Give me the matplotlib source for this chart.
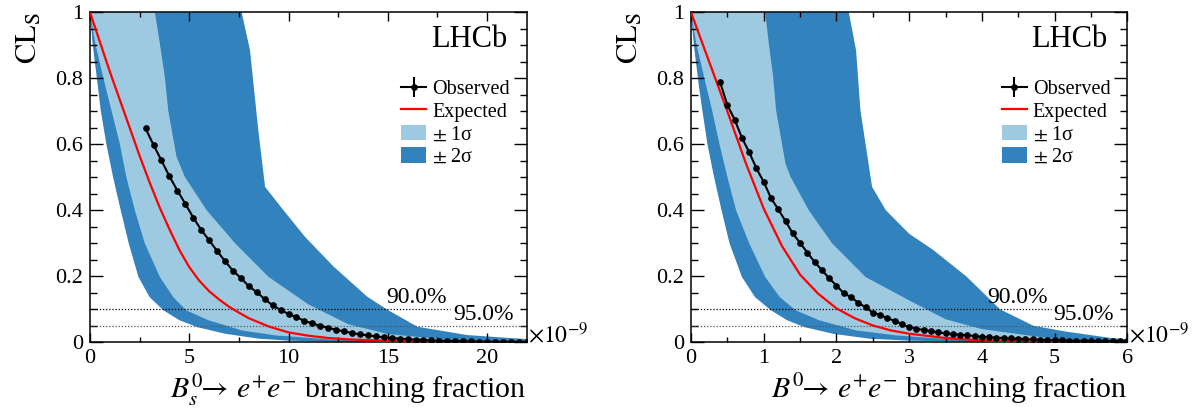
import numpy as np
import matplotlib
matplotlib.use('Agg')
import matplotlib.pyplot as plt
from matplotlib.patches import Patch
from matplotlib.ticker import MultipleLocator, FormatStrFormatter
import matplotlib.transforms as mtransforms

plt.rcParams['font.family'] = ['Liberation Serif', 'DejaVu Serif']
plt.rcParams['mathtext.fontset'] = 'stix'

# ---------------- Left panel: B_s^0 -> e+ e- ----------------
bs_exp_x = [0, 0.5, 1, 1.5, 2, 2.5, 3, 3.5, 4, 4.5, 5, 5.5, 6, 6.5, 7, 7.5, 8, 9, 10, 11, 12, 13, 14, 15, 16, 18, 20, 22]
bs_exp_y = [1.0, 0.91, 0.82, 0.735, 0.65, 0.565, 0.485, 0.41, 0.343, 0.28, 0.228, 0.187, 0.155, 0.13,
            0.108, 0.09, 0.073, 0.048, 0.03, 0.02, 0.013, 0.009, 0.0065, 0.0045, 0.0032, 0.0018, 0.001, 0.0005]

bs_obs_x = [2.8, 3.2, 3.6, 4.0, 4.4, 4.8, 5.2, 5.6, 6.0, 6.4, 6.8, 7.2, 7.6, 8.0, 8.4, 8.8, 9.2, 9.6,
            10.0, 10.4, 10.8, 11.2, 11.6, 12.0, 12.4, 12.8, 13.2, 13.6, 14.0, 14.4, 14.8, 15.2, 15.6,
            16.0, 16.4, 16.8, 17.2, 17.6, 18.0, 18.4, 18.8, 19.2, 19.6, 20.0, 20.4, 20.8, 21.2, 21.6, 22.0]
bs_obs_y = [0.648, 0.598, 0.551, 0.503, 0.460, 0.420, 0.378, 0.341, 0.309, 0.277, 0.246, 0.217, 0.195,
            0.170, 0.152, 0.131, 0.112, 0.098, 0.086, 0.076, 0.065, 0.057, 0.050, 0.044, 0.038, 0.033,
            0.028, 0.024, 0.021, 0.018, 0.015, 0.013, 0.011, 0.0095, 0.008, 0.007, 0.006, 0.005, 0.0043,
            0.0037, 0.0032, 0.0027, 0.0023, 0.002, 0.0017, 0.0015, 0.0013, 0.0011, 0.001]

bs_up2_x = [0, 7.64, 8.06, 8.48, 8.82, 9.75, 10.84, 12.28, 13.97, 15.0, 16.5, 19.0, 21.4, 22]
bs_up2_y = [1.0, 1.0, 0.885, 0.642, 0.471, 0.400, 0.319, 0.229, 0.138, 0.098, 0.047, 0.022, 0.012, 0.010]
bs_lo2_x = [0, 0.13, 0.40, 0.54, 0.82, 1.16, 1.55, 1.95, 2.44, 3.0, 3.7, 4.5, 5.4, 6.8, 8.5, 10, 12, 22]
bs_lo2_y = [1.0, 0.905, 0.774, 0.703, 0.602, 0.501, 0.400, 0.300, 0.198, 0.137, 0.097, 0.067, 0.046,
            0.026, 0.011, 0.005, 0.002, 0.0]
bs_up1_x = [0, 3.27, 3.52, 3.77, 3.94, 4.36, 4.78, 5.88, 7.31, 9.0, 11.0, 13, 15, 18, 22]
bs_up1_y = [1.0, 1.0, 0.905, 0.804, 0.703, 0.562, 0.501, 0.400, 0.300, 0.198, 0.115, 0.055, 0.025, 0.008, 0.002]
bs_lo1_x = [0, 0.27, 0.66, 1.08, 1.5, 1.83, 2.26, 2.76, 3.52, 4.19, 4.85, 5.96, 7.64, 9.33, 12, 15, 22]
bs_lo1_y = [1.0, 0.905, 0.804, 0.703, 0.602, 0.501, 0.400, 0.300, 0.198, 0.137, 0.097, 0.067, 0.036,
            0.021, 0.009, 0.003, 0.0]

# ---------------- Right panel: B^0 -> e+ e- ----------------
bd_exp_x = [0, 0.25, 0.5, 0.75, 1.0, 1.25, 1.5, 1.75, 2.0, 2.25, 2.5, 2.75, 3.0, 3.5, 4.0, 4.5, 5.0, 6.0]
bd_exp_y = [1.0, 0.85, 0.70, 0.545, 0.405, 0.292, 0.205, 0.147, 0.103, 0.073, 0.051, 0.036, 0.026,
            0.013, 0.006, 0.003, 0.0015, 0.0004]

bd_obs_x = [0.4, 0.5, 0.6, 0.7, 0.8, 0.9, 1.0, 1.1, 1.2, 1.3, 1.4, 1.5, 1.6, 1.7, 1.8, 1.9, 2.0, 2.1,
            2.2, 2.3, 2.4, 2.5, 2.6, 2.7, 2.8, 2.9, 3.0, 3.1, 3.2, 3.3, 3.4, 3.5, 3.6, 3.7, 3.8, 3.9,
            4.0, 4.1, 4.2, 4.3, 4.4, 4.5, 4.6, 4.7, 4.8, 4.9, 5.0, 5.1, 5.2, 5.3, 5.4, 5.5, 5.6, 5.7,
            5.8, 5.9, 6.0]
bd_obs_y = [0.788, 0.719, 0.675, 0.620, 0.576, 0.527, 0.486, 0.437, 0.403, 0.367, 0.330, 0.301, 0.272,
            0.243, 0.219, 0.194, 0.172, 0.149, 0.137, 0.120, 0.106, 0.090, 0.083, 0.073, 0.065, 0.055,
            0.046, 0.041, 0.037, 0.034, 0.030, 0.027, 0.025, 0.023, 0.021, 0.019, 0.017, 0.0155, 0.014,
            0.0128, 0.0116, 0.0105, 0.0095, 0.0086, 0.0078, 0.0071, 0.0064, 0.0058, 0.0053, 0.0048,
            0.0044, 0.004, 0.0036, 0.0033, 0.003, 0.0027, 0.0025]

bd_up2_x = [0, 2.17, 2.27, 2.33, 2.49, 2.68, 3.0, 3.33, 3.79, 4.25, 4.71, 5.17, 5.81, 6.0]
bd_up2_y = [1.0, 1.0, 0.885, 0.703, 0.471, 0.400, 0.329, 0.280, 0.199, 0.100, 0.050, 0.032, 0.012, 0.010]
bd_lo2_x = [0, 0.037, 0.11, 0.156, 0.225, 0.317, 0.42, 0.53, 0.70, 0.88, 1.1, 1.32, 1.56, 1.95, 2.45, 3.0, 4.0, 6.0]
bd_lo2_y = [1.0, 0.905, 0.774, 0.703, 0.602, 0.501, 0.400, 0.300, 0.198, 0.137, 0.097, 0.067, 0.046,
            0.026, 0.011, 0.005, 0.001, 0.0]
bd_up1_x = [0, 1.02, 1.07, 1.13, 1.17, 1.30, 1.37, 1.62, 1.94, 2.40, 3.0, 3.5, 4.0, 5.0, 6.0]
bd_up1_y = [1.0, 1.0, 0.905, 0.804, 0.703, 0.541, 0.501, 0.400, 0.300, 0.198, 0.127, 0.070, 0.040, 0.010, 0.003]
bd_lo1_x = [0, 0.073, 0.18, 0.29, 0.39, 0.50, 0.62, 0.80, 1.02, 1.22, 1.44, 1.76, 2.27, 2.82, 3.5, 4.5, 6.0]
bd_lo1_y = [1.0, 0.905, 0.804, 0.703, 0.602, 0.501, 0.400, 0.300, 0.198, 0.137, 0.097, 0.067, 0.036,
            0.021, 0.010, 0.003, 0.0]

cl_levels = [0.10, 0.05]
cl_labels = ['90.0%', '95.0%']

C1 = '#9ecae1'
C2 = '#3182bd'

FS_TICK = 16
FS_CL = 17
FS_LABEL = 22
FS_XLABEL = 21.5


def draw(ax, xmax, major, minor, exp_x, exp_y, obs_x, obs_y,
         up2x, up2y, lo2x, lo2y, up1x, up1y, lo1x, lo1y, xlabel):
    ax.fill(np.concatenate([lo2x, up2x[::-1]]), np.concatenate([lo2y, up2y[::-1]]),
            color=C2, lw=0, zorder=1)
    ax.fill(np.concatenate([lo1x, up1x[::-1]]), np.concatenate([lo1y, up1y[::-1]]),
            color=C1, lw=0, zorder=1.5)
    exp_line, = ax.plot(exp_x, exp_y, color='#ff0000', lw=1.6, zorder=3, label='Expected')
    obs = ax.errorbar(obs_x, obs_y, yerr=np.zeros(len(obs_y)), fmt='-o', color='black',
                      lw=1.5, ms=3.8, elinewidth=1.5, capsize=0, zorder=4, label='Observed')
    # CL lines
    trans = mtransforms.blended_transform_factory(ax.transAxes, ax.transData)
    ax.plot([0, 0.825], [cl_levels[0]] * 2, transform=trans, color='black', lw=0.9,
            ls=(0, (1, 1.5)), zorder=2.5)
    ax.plot([0, 1.0], [cl_levels[1]] * 2, transform=trans, color='#555555', lw=0.9,
            ls=(0, (1, 1.5)), zorder=2.5)
    off = mtransforms.offset_copy(trans, fig=ax.figure, x=0, y=4.5, units='points')
    ax.text(0.818, cl_levels[0], cl_labels[0], transform=off, ha='right', va='baseline',
            fontsize=FS_CL, zorder=6)
    ax.text(0.970, cl_levels[1], cl_labels[1], transform=off, ha='right', va='baseline',
            fontsize=FS_CL, zorder=6)

    ax.set_xlim(0, xmax)
    ax.set_ylim(0, 1)
    ax.xaxis.set_major_locator(MultipleLocator(major))
    ax.xaxis.set_minor_locator(MultipleLocator(minor))
    ax.yaxis.set_major_locator(MultipleLocator(0.2))
    ax.yaxis.set_minor_locator(MultipleLocator(0.05))
    ax.xaxis.set_major_formatter(FormatStrFormatter('%g'))
    ax.yaxis.set_major_formatter(FormatStrFormatter('%g'))
    ax.tick_params(axis='both', which='both', direction='in', top=True, right=True, width=1.0)
    ax.tick_params(axis='x', which='major', length=6.5, pad=4.5, labelsize=FS_TICK)
    ax.tick_params(axis='x', which='minor', length=3.3)
    ax.tick_params(axis='y', which='major', length=9.5, pad=5, labelsize=FS_TICK)
    ax.tick_params(axis='y', which='minor', length=5)
    for s in ax.spines.values():
        s.set_linewidth(1.1)

    ax.text(0.955, 0.895, 'LHCb', transform=ax.transAxes, ha='right', va='baseline',
            fontsize=FS_LABEL, zorder=6)
    ax.text(-0.14, 1.0, r'$\mathrm{CL}_\mathrm{S}$', transform=ax.transAxes, rotation=90,
            ha='center', va='top', fontsize=FS_LABEL)
    ax.text(1.0, -0.168, xlabel, transform=ax.transAxes, ha='right', va='baseline',
            fontsize=FS_XLABEL)
    ax.text(1.003, 0.0, r'$\times10^{-9}$', transform=ax.transAxes, ha='left', va='baseline',
            fontsize=FS_CL)

    handles = [obs, exp_line, Patch(color=C1, lw=0), Patch(color=C2, lw=0)]
    labels = ['Observed', 'Expected', r'$\pm$ 1σ', r'$\pm$ 2σ']
    ax.legend(handles, labels, loc='upper left', bbox_to_anchor=(0.712, 0.797),
              frameon=False, fontsize=14.5, handlelength=1.25, handleheight=0.8,
              handletextpad=0.3, labelspacing=0.15, borderpad=0, borderaxespad=0)


fig = plt.figure(figsize=(11.92, 4.08), dpi=100)
axL = fig.add_axes([90 / 1192, 1 - 342.3 / 408, 436.7 / 1192, 330 / 408])
axR = fig.add_axes([691 / 1192, 1 - 342.3 / 408, 436.3 / 1192, 330 / 408])

draw(axL, 22, 5, 2.5, bs_exp_x, bs_exp_y, bs_obs_x, bs_obs_y,
     np.array(bs_up2_x), np.array(bs_up2_y), np.array(bs_lo2_x), np.array(bs_lo2_y),
     np.array(bs_up1_x), np.array(bs_up1_y), np.array(bs_lo1_x), np.array(bs_lo1_y),
     r'$B^0_s\!\!\rightarrow\, e^{+}e^{-}$ branching fraction')
draw(axR, 6, 1, 0.5, bd_exp_x, bd_exp_y, bd_obs_x, bd_obs_y,
     np.array(bd_up2_x), np.array(bd_up2_y), np.array(bd_lo2_x), np.array(bd_lo2_y),
     np.array(bd_up1_x), np.array(bd_up1_y), np.array(bd_lo1_x), np.array(bd_lo1_y),
     r'$B^0\!\!\rightarrow\, e^{+}e^{-}$ branching fraction')

fig.savefig('out.png', dpi=100)
